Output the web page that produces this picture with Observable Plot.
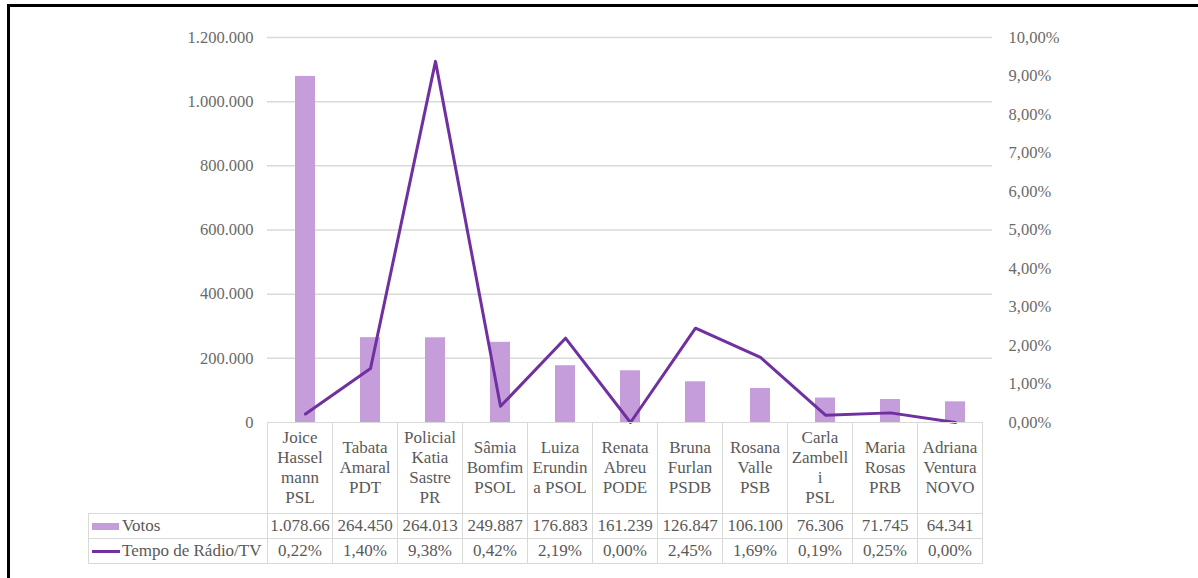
<!DOCTYPE html>
<html><head><meta charset="utf-8">
<script src="https://cdn.jsdelivr.net/npm/d3@7"></script>
<script src="https://cdn.jsdelivr.net/npm/@observablehq/plot@0.6"></script>
<style>
html,body{margin:0;padding:0;background:#fff;width:1198px;height:578px;overflow:hidden;}
#wrap{position:relative;width:1198px;height:578px;font-family:"Liberation Serif","Times New Roman",serif;}
#frame{position:absolute;left:7px;top:4px;width:1220px;height:620px;border:3px solid #000;box-sizing:border-box;}
#chart{position:absolute;left:0;top:0;}
#tbl{position:absolute;border-collapse:collapse;table-layout:fixed;font-size:17px;color:#595959;font-family:"Liberation Serif","Times New Roman",serif;}
#tbl td{border:1px solid #d9d9d9;text-align:center;padding:0 1px;overflow:hidden;white-space:nowrap;line-height:20px;}
#tbl td.blank{border-top:none;border-left:none;}
#tbl td.rh{text-align:left;padding-left:3px;}
.sw{display:inline-block;width:27px;height:7px;margin-right:3px;vertical-align:middle;position:relative;top:-1px;}
.ln{display:inline-block;width:28px;height:3px;margin-right:2px;vertical-align:middle;position:relative;top:-1px;}
</style>
</head><body>
<div id="wrap"><div id="chart"></div><div id="frame"></div></div>
<script>
const categoryLines = [
  ["Joice","Hassel","mann","PSL"],
  ["Tabata","Amaral","PDT"],
  ["Policial","Katia","Sastre","PR"],
  ["Sâmia","Bomfim","PSOL"],
  ["Luiza","Erundin","a PSOL"],
  ["Renata","Abreu","PODE"],
  ["Bruna","Furlan","PSDB"],
  ["Rosana","Valle","PSB"],
  ["Carla","Zambell","i","PSL"],
  ["Maria","Rosas","PRB"],
  ["Adriana","Ventura","NOVO"]
];
const votos = [1078666, 264450, 264013, 249887, 176883, 161239, 126847, 106100, 76306, 71745, 64341];
const tempo = [0.22, 1.40, 9.38, 0.42, 2.19, 0.00, 2.45, 1.69, 0.19, 0.25, 0.00];
const leftTicks = [0, 200000, 400000, 600000, 800000, 1000000, 1200000];
const rightTicks = [0, 1, 2, 3, 4, 5, 6, 7, 8, 9, 10];
const seriesNames = ["Votos", "Tempo de Rádio/TV"];
const barColor = "#C59DDA";
const lineColor = "#7030A0";

const names = categoryLines.map(l => l.join(" "));
const data = names.map((n, i) => ({name: n, votos: votos[i], tempo: tempo[i]}));
const k = leftTicks[leftTicks.length - 1] / rightTicks[rightTicks.length - 1];
const loc = d3.formatLocale({decimal: ",", thousands: ".", grouping: [3], currency: ["", ""]});
const fmtNum = loc.format(",d");
const fmtPct = p => p.toFixed(2).replace(".", ",") + "%";

const plot = Plot.plot({
  width: 1198, height: 440,
  marginTop: 37, marginBottom: 18, marginLeft: 267, marginRight: 206,
  style: {fontFamily: "'Liberation Serif', 'Times New Roman', serif", fontSize: "16.5px", color: "#6a6a6a", background: "transparent"},
  x: {domain: names, paddingInner: 0.7, paddingOuter: 0.35, axis: null},
  y: {domain: [0, leftTicks[leftTicks.length - 1]], axis: null},
  marks: [
    Plot.gridY(leftTicks.slice(1), {stroke: "#d9d9d9", strokeOpacity: 1, strokeWidth: 1.5}),
    Plot.axisY(leftTicks, {anchor: "left", label: null, tickSize: 0, tickPadding: 14, tickFormat: fmtNum}),
    Plot.axisY(rightTicks.map(t => t * k), {anchor: "right", label: null, tickSize: 0, tickPadding: 16, tickFormat: d => fmtPct(d / k)}),
    Plot.barY(data, {x: "name", y: "votos", fill: barColor}),
    Plot.line(data, {x: "name", y: d => d.tempo * k, stroke: lineColor, strokeWidth: 3})
  ]
});
document.getElementById("chart").appendChild(plot);

// data table below the plot, aligned to the x scale
const xs = plot.scale("x");
const step = xs.step;
const x0 = xs.range[0];
const tableLeft = 88;
const tbl = document.createElement("table");
tbl.id = "tbl";
tbl.style.left = tableLeft + "px";
tbl.style.top = "422px";
tbl.style.width = (x0 - tableLeft + step * names.length) + "px";
const cg = document.createElement("colgroup");
const c0 = document.createElement("col"); c0.style.width = (x0 - tableLeft) + "px"; cg.appendChild(c0);
names.forEach(() => { const c = document.createElement("col"); c.style.width = step + "px"; cg.appendChild(c); });
tbl.appendChild(cg);

const r0 = tbl.insertRow(); r0.style.height = "91px";
const b = r0.insertCell(); b.className = "blank";
categoryLines.forEach(lines => {
  const td = r0.insertCell();
  lines.forEach((t, i) => { if (i) td.appendChild(document.createElement("br")); td.appendChild(document.createTextNode(t)); });
});
const r1 = tbl.insertRow(); r1.style.height = "25px";
const h1 = r1.insertCell(); h1.className = "rh";
const sw = document.createElement("span"); sw.className = "sw"; sw.style.background = barColor; h1.appendChild(sw);
h1.appendChild(document.createTextNode(seriesNames[0]));
const voteCells = votos.map(v => { const td = r1.insertCell(); td.textContent = fmtNum(v); return td; });
const r2 = tbl.insertRow(); r2.style.height = "25px";
const h2 = r2.insertCell(); h2.className = "rh";
const ln = document.createElement("span"); ln.className = "ln"; ln.style.background = lineColor; h2.appendChild(ln);
h2.appendChild(document.createTextNode(seriesNames[1]));
tempo.forEach(v => { r2.insertCell().textContent = fmtPct(v); });
document.getElementById("wrap").insertBefore(tbl, document.getElementById("frame"));

// like a spreadsheet, drop trailing characters that do not fit in a cell
voteCells.forEach(td => {
  let s = td.textContent;
  while (td.scrollWidth > td.clientWidth && s.length > 1) { s = s.slice(0, -1); td.textContent = s; }
});
</script>
</body></html>
